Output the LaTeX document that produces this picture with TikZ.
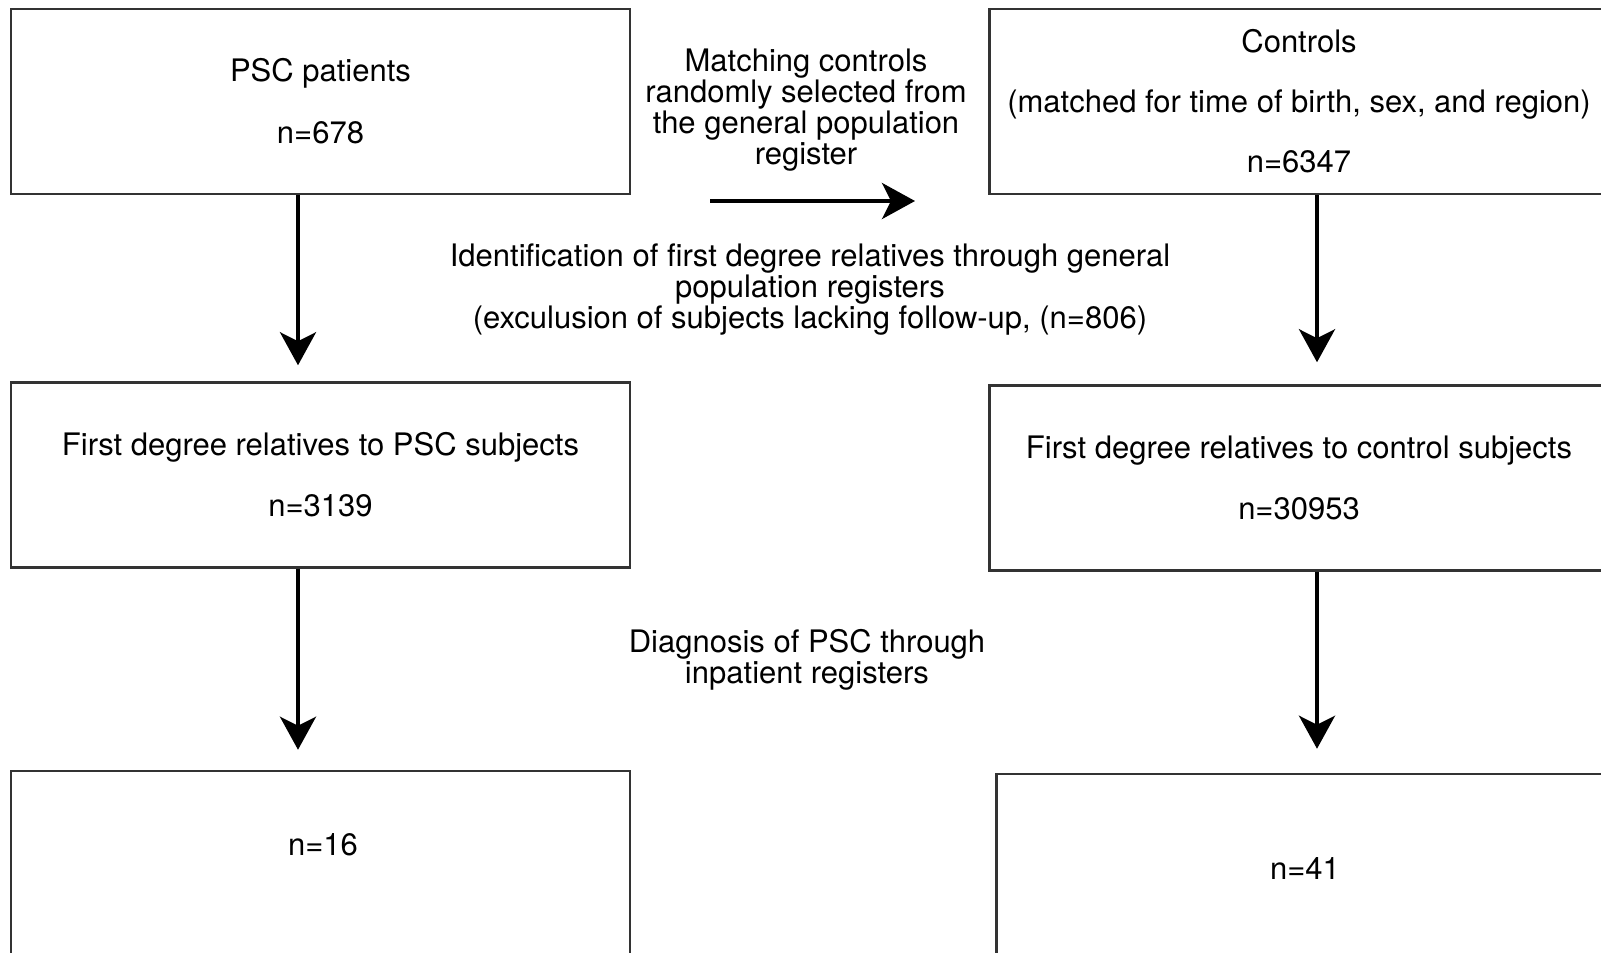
\documentclass[tikz,border=0pt]{standalone}
\usepackage{fontspec}
\setmainfont{TeX Gyre Heros}
\usetikzlibrary{arrows.meta}
\begin{document}
\begin{tikzpicture}[x=1pt,y=-1pt,
	font=\fontsize{31}{31}\selectfont,
	box/.style={draw=black!80,line width=2.5pt,minimum width=619pt,minimum height=185pt,align=center,inner sep=0pt},
	arr/.style={line width=4pt,-{Stealth[length=33pt,width=36pt,inset=9pt]}},
	txt/.style={align=center,inner sep=0pt}]
	\useasboundingbox (0,0) rectangle (1601,953);
	\clip (0,0) rectangle (1601,953);

	% lewa kolumna
	\node[box] (psc) at (320.5,101.5) {PSC patients\\[31pt]n=678};
	\node[box] (relpsc) at (320.5,475) {First degree relatives to PSC subjects\\[30pt]n=3139};
	\node[box] (diagpsc) at (320.5,863.5) {};
	\node[txt] (n16) at (323,845) {n=16};

	% prawa kolumna
	\node[box] (ctrl) at (1299,101.5) {Controls\\[29pt](matched for time of birth, sex, and region)\\[29pt]n=6347};
	\node[box] (relctrl) at (1299,478) {First degree relatives to control subjects\\[30pt]n=30953};
	\node[box] (diagctrl) at (1306,866.5) {};
	\node[txt] (n41) at (1305,868) {n=41};

	% opisy
	\node[txt] (match) at (806,110.5) {Matching controls\\randomly selected from\\the general population\\register};
	\node[txt] (ident) at (810,290) {Identification of first degree relatives through general\\population registers\\(exculusion of subjects lacking follow-up, (n=806)};
	\node[txt] (diag) at (807,659.5) {Diagnosis of PSC through\\inpatient registers};

	% strzalki
	\coordinate (lx) at (298,0);
	\coordinate (rx) at (1317,0);
	\coordinate (mstart) at (710,201);
	\coordinate (mend) at (915,201);
	\draw[arr] (mstart) -- (mend);
	\draw[arr,shorten >=16pt] (psc.south -| lx) -- (relpsc.north -| lx);
	\draw[arr,shorten >=20pt] (relpsc.south -| lx) -- (diagpsc.north -| lx);
	\draw[arr,shorten >=22pt] (ctrl.south -| rx) -- (relctrl.north -| rx);
	\draw[arr,shorten >=24pt] (relctrl.south -| rx) -- (diagctrl.north -| rx);
\end{tikzpicture}
\end{document}
